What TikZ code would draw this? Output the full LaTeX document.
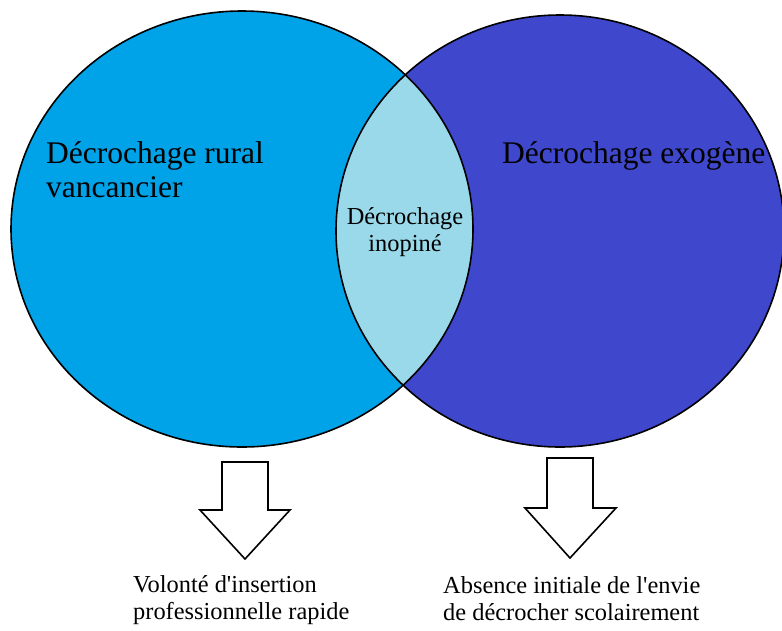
\documentclass[tikz,border=0pt]{standalone}
\usepackage{fontspec}
\setmainfont{Liberation Serif}[Ligatures=TeXOff]
\usetikzlibrary{positioning}

\definecolor{ruralblue}{RGB}{0,162,232}
\definecolor{exoblue}{RGB}{63,72,204}
\definecolor{lensblue}{RGB}{153,217,234}

\tikzset{
  biglabel/.style={anchor=base west, inner sep=0pt, align=left,
    font=\fontsize{31.5}{34}\selectfont},
  smalllabel/.style={inner sep=0pt, align=left,
    font=\fontsize{24.4}{26.5}\selectfont},
  blockarrow/.style={draw, fill=white, line width=1.6pt, line join=miter}
}

\begin{document}
\begin{tikzpicture}[x=1pt, y=-1pt]
  \clip (0,0) rectangle (782,630);
  \fill[white] (0,0) rectangle (782,630);

  % Sets
  \fill[ruralblue] (242,229) ellipse [x radius=231, y radius=218];
  \fill[exoblue] (560,231) ellipse [x radius=224, y radius=216];
  \begin{scope}
    \clip (242,229) ellipse [x radius=231, y radius=218];
    \fill[lensblue] (560,231) ellipse [x radius=224, y radius=216];
  \end{scope}
  \draw[line width=1.6pt] (242,229) ellipse [x radius=231, y radius=218];
  \draw[line width=1.6pt] (560,231) ellipse [x radius=224, y radius=216];

  % Labels of the sets (base = last line)
  \node[biglabel] (rural) at (46,197) {Décrochage rural\\vancancier};
  \node[biglabel] (exo) at (502,163) {Décrochage exogène};
  \node[smalllabel, anchor=base, align=center] (inop) at (405,251) {Décrochage\\inopiné};

  % Block arrows
  \draw[blockarrow] (222,462) -- (268,462) -- (268,510) -- (290,510)
    -- (245,559) -- (200,510) -- (222,510) -- cycle;
  \draw[blockarrow] (547,458) -- (593,458) -- (593,508) -- (616,508)
    -- (570,558) -- (525,508) -- (547,508) -- cycle;

  % Consequences
  \node[smalllabel, anchor=base west] (volonte) at (133,619) {Volonté d'insertion\\professionnelle rapide};
  \node[smalllabel, anchor=base west] (absence) at (443,620) {Absence initiale de l'envie\\de décrocher scolairement};
\end{tikzpicture}
\end{document}
